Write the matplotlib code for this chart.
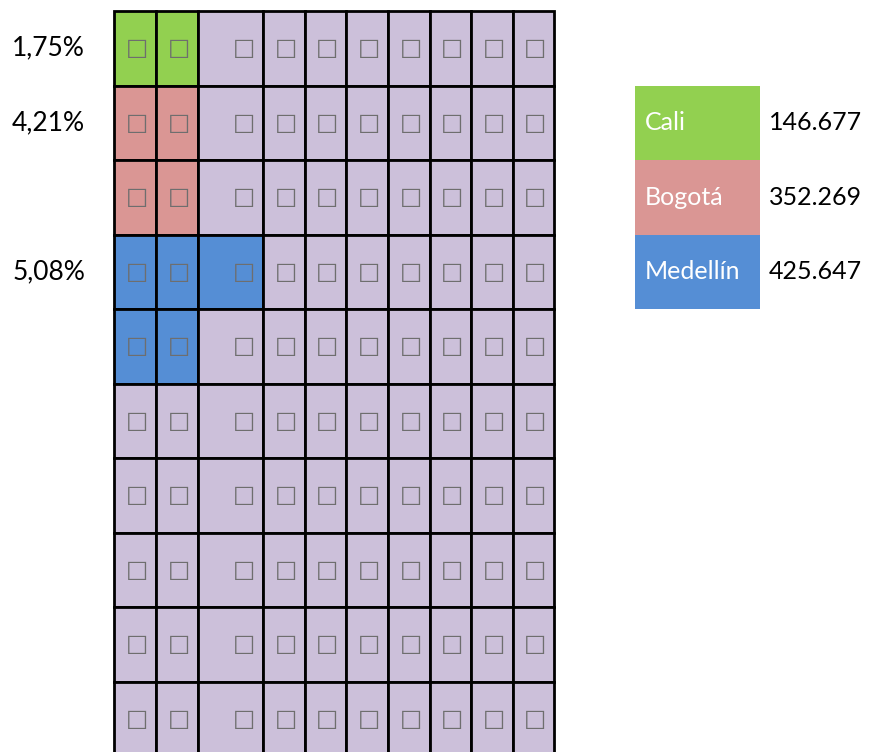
import matplotlib.pyplot as plt
import numpy as np

# data
cities = ["Cali", "Bogotá", "Medellín"]
totals = ["146.677", "352.269", "425.647"]
shares = ["1,75%", "4,21%", "5,08%"]
share_rows = [0, 1, 3]
city_colors = ["#92D050", "#DA9694", "#558ED5"]
rest_color = "#CCC0DA"
# colored cells per row: (city index, number of cells from the left)
row_fill = [(0, 2), (1, 2), (1, 2), (2, 3), (2, 2)]
n_rows = 10
col_w = [42, 42, 65, 42, 41, 42, 42, 41, 42, 41]

# layout (pixels)
W, H = 869, 752
x0, y0, rh = 114, 11, 74.5
fnt = "Lato"

fig = plt.figure(figsize=(W / 100, H / 100), dpi=100)
ax = fig.add_axes([0, 0, 1, 1])
ax.set_xlim(0, W); ax.set_ylim(H, 0); ax.axis("off")

lefts = x0 + np.concatenate([[0], np.cumsum(col_w)[:-1]])
for r in range(n_rows):
    cols = [rest_color] * len(col_w)
    if r < len(row_fill):
        c, n = row_fill[r]
        cols[:n] = [city_colors[c]] * n
    ax.bar(lefts, rh, width=col_w, bottom=y0 + r * rh, align="edge",
           color=cols, edgecolor="black", linewidth=2)
    for L, w in zip(lefts, col_w):
        ax.text(L + w - 8, y0 + (r + 0.5) * rh, "□", ha="right", va="center",
                fontsize=17, color="#6e6e6e", family="DejaVu Sans")

for s, r in zip(shares, share_rows):
    ax.text(85, y0 + (r + 0.5) * rh, s, ha="right", va="center", fontsize=19, family=fnt)

# legend table
for i, (name, tot, col) in enumerate(zip(cities, totals, city_colors)):
    top = y0 + (i + 1) * rh
    ax.bar(635, rh, width=125, bottom=top, align="edge", color=col, linewidth=0)
    ax.text(645, top + rh / 2, name, ha="left", va="center", color="white", fontsize=18, family=fnt)
    ax.text(769, top + rh / 2, tot, ha="left", va="center", color="black", fontsize=18, family=fnt)

fig.savefig("out.png", dpi=100)
